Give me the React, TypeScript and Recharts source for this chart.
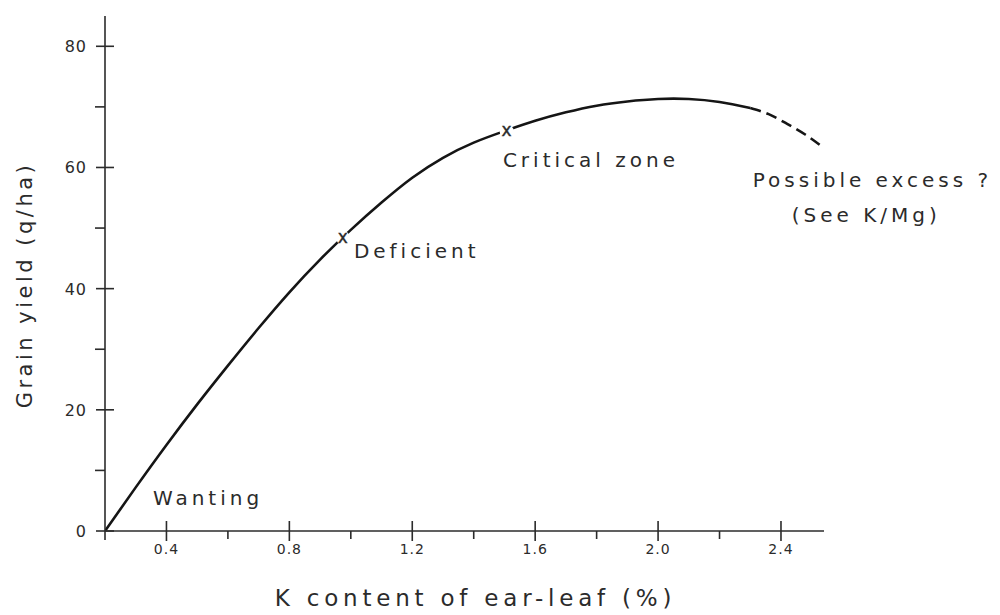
import React from "react";
import {
  ComposedChart,
  Line,
  Scatter,
  XAxis,
  YAxis,
  ReferenceDot,
} from "recharts";

// ---- data ----
const kSolid = [0.2, 0.3, 0.4, 0.5, 0.6, 0.7, 0.8, 0.9, 1.0, 1.1, 1.2, 1.3, 1.4, 1.5, 1.6, 1.7, 1.8, 1.9, 2.0, 2.1, 2.2, 2.3];
const yieldSolid = [0, 7.2, 14.2, 20.9, 27.3, 33.5, 39.4, 44.8, 49.7, 54.2, 58.3, 61.6, 64.1, 66.0, 67.7, 69.1, 70.2, 70.9, 71.3, 71.3, 70.8, 69.8];

const kExcess = [2.3, 2.36, 2.42, 2.48, 2.54];
const yieldExcess = [69.8, 68.8, 67.2, 65.4, 63.2];

const markerK = [0.974, 1.507];
const markerYield = [48.4, 66.0];

const xTicks = [0.2, 0.4, 0.6, 0.8, 1.0, 1.2, 1.4, 1.6, 1.8, 2.0, 2.2, 2.4];
const xMajor = [0.4, 0.8, 1.2, 1.6, 2.0, 2.4];
const yTicks = [0, 10, 20, 30, 40, 50, 60, 70, 80];
const yMajor = [0, 20, 40, 60, 80];

const noteText = ["Wanting", "Deficient", "Critical zone", "Possible excess ?", "(See K/Mg)"];
const noteK = [0.356, 1.01, 1.495, 2.308, 2.435];
const noteYield = [4.3, 45.0, 60.0, 56.8, 51.0];

const solidData = kSolid.map((x, i) => ({ x, y: yieldSolid[i] }));
const excessData = kExcess.map((x, i) => ({ x, y: yieldExcess[i] }));
const markerData = markerK.map((x, i) => ({ x, y: markerYield[i] }));
const notes = noteText.map((t, i) => ({ t, x: noteK[i], y: noteYield[i] }));

const FONT = "'DejaVu Sans', sans-serif";
const INK = "#2b2b2b";
const isIn = (arr: number[], v: number) => arr.some((a) => Math.abs(a - v) < 1e-6);

const XTick = (props: any) => {
  const { x, y, payload } = props;
  const v = payload.value;
  if (Math.abs(v - 0.2) < 1e-6) {
    return (
      <g>
        <line x1={x} y1={y} x2={x} y2={y + 9} stroke={INK} strokeWidth={1.6} />
      </g>
    );
  }
  if (isIn(xMajor, v)) {
    return (
      <g>
        <line x1={x} y1={y - 10} x2={x} y2={y + 10} stroke={INK} strokeWidth={1.6} />
        <text x={x} y={y + 23} textAnchor="middle" fontFamily={FONT} fontSize={14} letterSpacing={1} fill={INK}>
          {v.toFixed(1)}
        </text>
      </g>
    );
  }
  return <line x1={x} y1={y} x2={x} y2={y + 8} stroke={INK} strokeWidth={1.6} />;
};

const YTick = (props: any) => {
  const { x, y, payload } = props;
  const v = payload.value;
  if (isIn(yMajor, v)) {
    return (
      <g>
        <line x1={x - 9} y1={y} x2={x + 9} y2={y} stroke={INK} strokeWidth={1.6} />
        <text x={x - 18} y={y + 6} textAnchor="end" fontFamily={FONT} fontSize={16} letterSpacing={1} fill={INK}>
          {String(v)}
        </text>
      </g>
    );
  }
  return <line x1={x - 10} y1={y} x2={x} y2={y} stroke={INK} strokeWidth={1.6} />;
};

const MarkerShape = (props: any) => {
  const { cx, cy } = props;
  return (
    <g>
      <circle cx={cx} cy={cy} r={7} fill="#ffffff" />
      <text x={cx} y={cy + 5} textAnchor="middle" fontFamily={FONT} fontSize={17} fill={INK} stroke={INK} strokeWidth={0.4}>
        x
      </text>
    </g>
  );
};

const noteLabel = (text: string) => (props: any) => {
  const vb = props.viewBox || {};
  return (
    <text x={vb.x} y={vb.y} fontFamily={FONT} fontSize={20} letterSpacing={4} fill={INK}>
      {text}
    </text>
  );
};

const XTitle = (props: any) => {
  const vb = props.viewBox || {};
  return (
    <text x={vb.x + vb.width / 2 + 11} y={vb.y + 75} textAnchor="middle" fontFamily={FONT} fontSize={23} letterSpacing={4.8} fill={INK}>
      K content of ear-leaf (%)
    </text>
  );
};

const YTitle = () => (
  <text x={24} y={277} transform="rotate(-90, 24, 277)" textAnchor="middle" fontFamily={FONT} fontSize={21} letterSpacing={3.5} fill={INK}>
    Grain yield (q/ha)
  </text>
);

export default function App() {
  return (
    <div style={{ width: 992, height: 607, background: "#fff" }}>
      <ComposedChart width={992} height={607} margin={{ top: 8, right: 176, bottom: 24, left: 0 }}>
        <XAxis
          type="number"
          dataKey="x"
          domain={[0.2, 2.54]}
          ticks={xTicks}
          interval={0}
          tickSize={0}
          tickMargin={0}
          tickLine={false}
          tick={<XTick />}
          height={60}
          axisLine={{ stroke: INK, strokeWidth: 1.6 }}
          label={<XTitle />}
          allowDataOverflow
        />
        <YAxis
          type="number"
          domain={[0, 85]}
          ticks={yTicks}
          interval={0}
          tickSize={0}
          tickMargin={0}
          tickLine={false}
          tick={<YTick />}
          width={97}
          axisLine={{ stroke: INK, strokeWidth: 1.6 }}
          label={<YTitle />}
          allowDataOverflow
        />
        <Line data={solidData} dataKey="y" type="natural" stroke="#151515" strokeWidth={2.6} dot={false} activeDot={false} isAnimationActive={false} />
        <Line data={excessData} dataKey="y" type="natural" stroke="#151515" strokeWidth={2.6} strokeDasharray="11 6" dot={false} activeDot={false} isAnimationActive={false} />
        <Scatter data={markerData} dataKey="y" shape={<MarkerShape />} isAnimationActive={false} />
        {notes.map((n) => (
          <ReferenceDot key={n.t} x={n.x} y={n.y} r={0} fill="none" stroke="none" label={noteLabel(n.t)} />
        ))}
      </ComposedChart>
    </div>
  );
}
